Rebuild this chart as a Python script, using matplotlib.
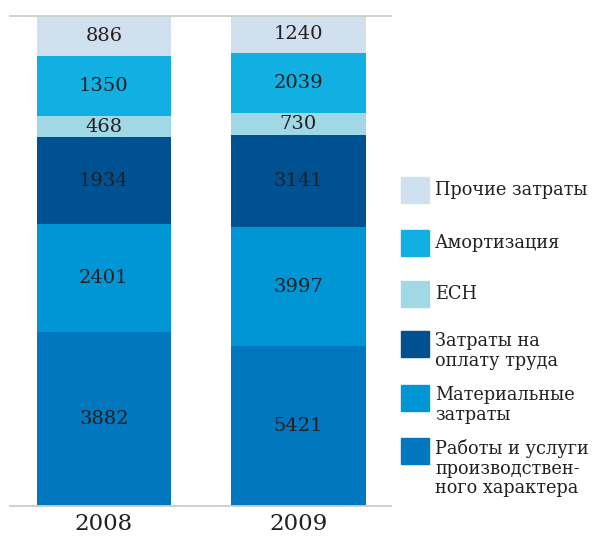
import matplotlib
matplotlib.use("Agg")
import matplotlib.pyplot as plt
from matplotlib.patches import Rectangle
import numpy as np

years = ["2008", "2009"]
# bottom to top
categories = ["Работы и услуги\nпроизводствен-\nного характера",
              "Материальные\nзатраты",
              "Затраты на\nоплату труда",
              "ЕСН",
              "Амортизация",
              "Прочие затраты"]
works = [3882, 5421]
materials = [2401, 3997]
labor = [1934, 3141]
esn = [468, 730]
amort = [1350, 2039]
other = [886, 1240]

colors = ["#0077BF", "#0096D6", "#005192", "#A0D8E6", "#12AFE3", "#D0E0EE"]
series = [works, materials, labor, esn, amort, other]

plt.rcParams['font.family'] = ['DejaVu Serif']
W, H = 593, 536
fig = plt.figure(figsize=(W / 100, H / 100), dpi=100)
ax = fig.add_axes([10 / W, 1 - 506 / H, (391 - 10) / W, (506 - 16) / H])

data = np.array(series, dtype=float)
totals = data.sum(axis=0)
pct = data / totals * 100
x = np.arange(len(years))
bottom = np.zeros(len(years))
txtc = "#231F20"
for i, (row, raw) in enumerate(zip(pct, data)):
    ax.bar(x, row, bottom=bottom, width=0.69, color=colors[i], zorder=1)
    for xi, b, h, v in zip(x, bottom, row, raw):
        ax.text(xi, b + h / 2, f"{int(v)}", ha="center", va="center",
                fontsize=14, color=txtc)
    bottom += row

ax.set_xlim(-0.483, 1.476)
ax.set_ylim(0, 100)
for s in ["left", "right"]:
    ax.spines[s].set_visible(False)
for s in ["top", "bottom"]:
    ax.spines[s].set_color("#C9D0C6")
    ax.spines[s].set_linewidth(1.3)
ax.set_yticks([])
ax.set_xticks(x)
ax.set_xticklabels(years, fontsize=16.5, color=txtc)
ax.tick_params(axis="x", length=0, pad=5)

# legend (top to bottom)
leg_tops = [177, 230, 281, 331, 385, 438]
leg_order = list(range(len(categories)))[::-1]
for top, idx in zip(leg_tops, leg_order):
    fig.patches.append(Rectangle((401 / W, 1 - (top + 26) / H), 28 / W, 26 / H,
                                 transform=fig.transFigure, color=colors[idx]))
    label = categories[idx]
    if "\n" in label:
        fig.text(435 / W, 1 - (top + 1) / H, label, ha="left", va="top",
                 fontsize=12.8, color=txtc, linespacing=1.12)
    else:
        fig.text(435 / W, 1 - (top + 13) / H, label, ha="left", va="center",
                 fontsize=12.8, color=txtc)

fig.savefig("out.png", dpi=100)
